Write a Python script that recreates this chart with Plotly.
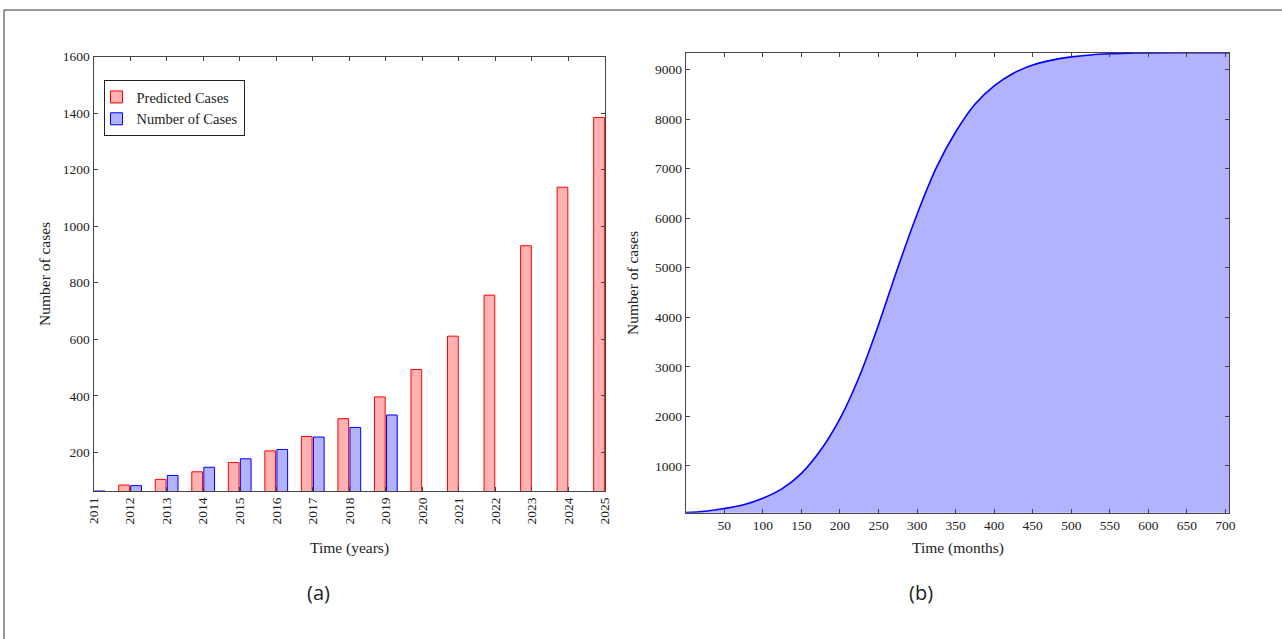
import plotly.graph_objects as go

# ---- data: left panel (a) ----
years = [2011, 2012, 2013, 2014, 2015, 2016, 2017, 2018, 2019, 2020, 2021, 2022, 2023, 2024, 2025]
predicted_cases = [None, 84, 104, 131, 164, 205, 256, 319, 396, 493, 611, 756, 931, 1138, 1385]
number_of_cases = [63, 82, 118, 147, 177, 210, 254, 288, 332, None, None, None, None, None, None]
year_ticks = [str(y) for y in years]
cases_ticks_a = [200, 400, 600, 800, 1000, 1200, 1400, 1600]

# ---- data: right panel (b) ----
months = [0, 25, 50, 75, 100, 125, 150, 175, 200, 225, 250, 275, 300, 325, 350,
          375, 400, 425, 450, 475, 500, 525, 550, 575, 600, 650, 705]
cumulative_cases = [56, 85, 140, 215, 345, 540, 850, 1320, 1955, 2800, 3850, 5000, 6080, 7020, 7740,
                    8300, 8670, 8925, 9090, 9190, 9255, 9295, 9318, 9330, 9337, 9340, 9340]
month_ticks = list(range(50, 701, 50))
cases_ticks_b = [1000, 2000, 3000, 4000, 5000, 6000, 7000, 8000, 9000]

W, H = 1282, 639
SERIF = "Liberation Serif, DejaVu Serif, serif"
AX = "#444444"
TXT = "#222222"

def px_x(p):
    return p / W

def px_y(p):
    return 1 - p / H

fig = go.Figure()

fig.add_trace(go.Bar(
    x=years, y=predicted_cases, name="Predicted Cases",
    width=0.293, offset=-0.31,
    marker=dict(color="rgba(255,0,0,0.3)", line=dict(color="red", width=1)),
    xaxis="x", yaxis="y",
))
fig.add_trace(go.Bar(
    x=years, y=number_of_cases, name="Number of Cases",
    width=0.293, offset=0.02,
    marker=dict(color="rgba(0,0,255,0.3)", line=dict(color="blue", width=1)),
    xaxis="x", yaxis="y",
))

fig.add_trace(go.Scatter(
    x=months, y=cumulative_cases, mode="lines", line=dict(color="blue", width=1.6, shape="spline"),
    fill="tozeroy", fillcolor="rgba(0,0,255,0.3)", showlegend=False,
    xaxis="x2", yaxis="y2",
))

common_axis = dict(
    showline=True, linecolor=AX, linewidth=1, mirror="ticks",
    ticks="inside", ticklen=4, tickwidth=1, tickcolor=AX,
    showgrid=False, zeroline=False, automargin=False,
    tickfont=dict(family=SERIF, size=13.5, color=TXT),
)

fig.update_layout(
    width=W, height=H,
    margin=dict(l=0, r=0, t=0, b=0),
    paper_bgcolor="white", plot_bgcolor="white",
    barmode="overlay",
    showlegend=True,
    legend=dict(
        x=px_x(103.5), y=px_y(80), xanchor="left", yanchor="top",
        bgcolor="white", bordercolor=TXT, borderwidth=1,
        font=dict(family=SERIF, size=14.5, color=TXT),
        tracegroupgap=0, itemwidth=30, indentation=-8,
    ),
    xaxis=dict(
        common_axis, domain=[px_x(93.5), px_x(605)], range=[2011, 2025],
        tickmode="array", tickvals=years, ticktext=year_ticks, tickangle=-90,
        anchor="y",
    ),
    yaxis=dict(
        common_axis, domain=[px_y(491), px_y(56.7)], range=[63, 1600],
        tickmode="array", tickvals=cases_ticks_a,
        anchor="x",
    ),
    xaxis2=dict(
        common_axis, domain=[px_x(685.8), px_x(1229.3)], range=[0, 705],
        tickmode="array", tickvals=month_ticks,
        anchor="y2",
    ),
    yaxis2=dict(
        common_axis, domain=[px_y(512.7), px_y(52.7)], range=[55, 9340],
        tickmode="array", tickvals=cases_ticks_b,
        anchor="x2",
    ),
)

ann_font = dict(family=SERIF, size=15.5, color=TXT)
cap_font = dict(family="Open Sans, Noto Sans, sans-serif", size=20, color=TXT)
annotations = [
    dict(text="Time (years)", x=px_x(349), y=px_y(548), xref="paper", yref="paper",
         showarrow=False, font=ann_font, xanchor="center", yanchor="middle"),
    dict(text="Number of cases", x=px_x(44), y=px_y(274), xref="paper", yref="paper",
         showarrow=False, font=ann_font, textangle=-90, xanchor="center", yanchor="middle"),
    dict(text="Time (months)", x=px_x(958), y=px_y(548), xref="paper", yref="paper",
         showarrow=False, font=ann_font, xanchor="center", yanchor="middle"),
    dict(text="Number of cases", x=px_x(633), y=px_y(283), xref="paper", yref="paper",
         showarrow=False, font=ann_font, textangle=-90, xanchor="center", yanchor="middle"),
    dict(text="(a)", x=px_x(318), y=px_y(592), xref="paper", yref="paper",
         showarrow=False, font=cap_font, xanchor="center", yanchor="middle"),
    dict(text="(b)", x=px_x(921), y=px_y(592), xref="paper", yref="paper",
         showarrow=False, font=cap_font, xanchor="center", yanchor="middle"),
]
fig.update_layout(annotations=annotations)

fig.update_layout(shapes=[
    dict(type="line", xref="paper", yref="paper", x0=px_x(4), y0=px_y(10), x1=1, y1=px_y(10),
         line=dict(color="#333", width=1)),
    dict(type="line", xref="paper", yref="paper", x0=px_x(4), y0=px_y(10), x1=px_x(4), y1=0,
         line=dict(color="#333", width=1)),
])

fig.write_html(
    "out.html",
    config={"displayModeBar": False},
    post_script="document.body.style.margin='0';document.body.style.overflow='hidden';",
)
